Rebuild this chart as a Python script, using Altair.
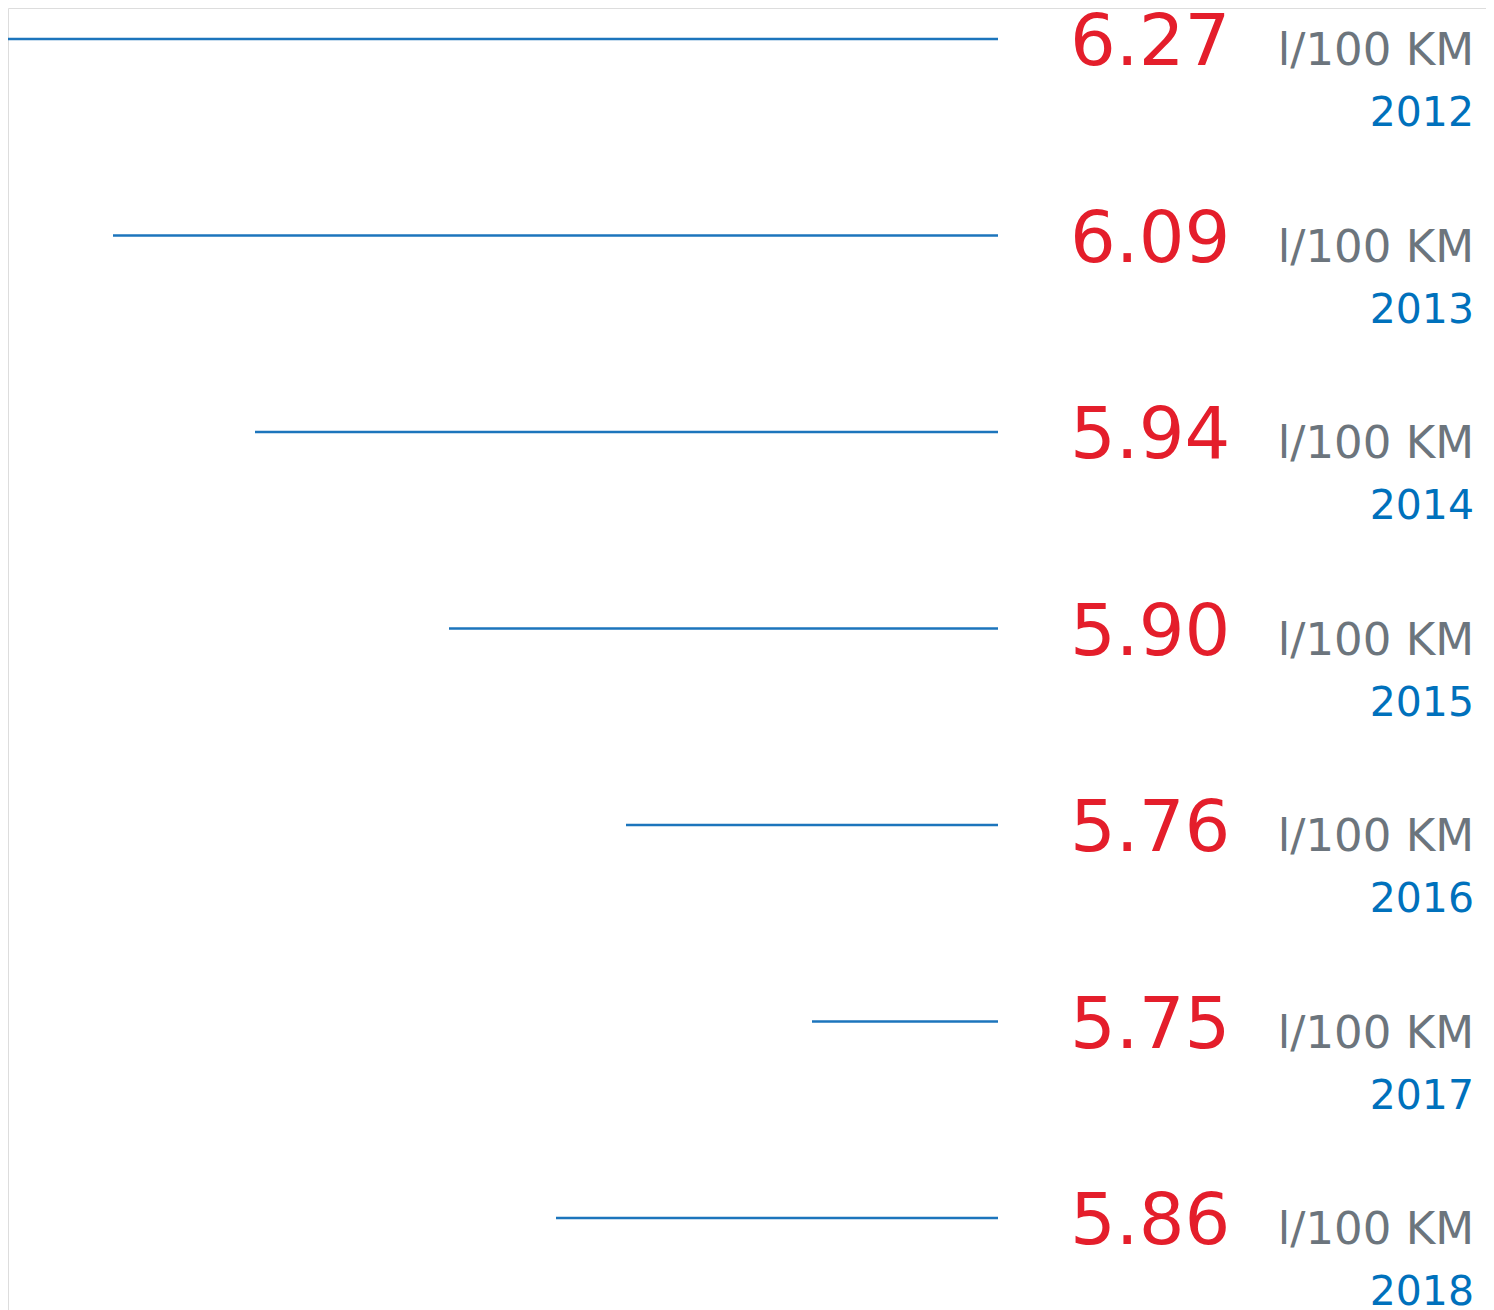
import altair as alt
import pandas as pd

years = [2012, 2013, 2014, 2015, 2016, 2017, 2018]
values = ["6.27", "6.09", "5.94", "5.90", "5.76", "5.75", "5.86"]
line_length = [998, 885, 743, 549, 372, 186, 442]
unit = "l/100 KM"

df = pd.DataFrame({
    "year": years,
    "value": values,
    "length": line_length,
    "unit": [unit] * len(years),
})

FONT = "DejaVu Sans"
LINE_END = 998
H = 1330
TOP = 31
STEP = 196.5

y_scale = alt.Scale(domain=[2012 - TOP / STEP, 2012 + (H - TOP) / STEP],
                    reverse=True, nice=False, zero=False)
y_enc = alt.Y("year:Q", scale=y_scale, axis=None)
x_scale = alt.Scale(domain=[8, 1486], nice=False, zero=False)

base = alt.Chart(df).transform_calculate(
    start=f"{LINE_END} - datum.length", end=f"{LINE_END}"
)

rules = base.mark_rule(color="#1C75BC", strokeWidth=2.5).encode(
    x=alt.X("start:Q", scale=x_scale, axis=None),
    x2="end:Q",
    y=y_enc,
)

value_text = base.mark_text(
    font=FONT, fontSize=72, color="#E41E2B", align="left", baseline="alphabetic", dy=26
).encode(x=alt.value(1062), y=y_enc, text="value:N")

unit_text = base.mark_text(
    font=FONT, fontSize=45, color="#6C757D", align="right", baseline="alphabetic", dy=26
).encode(x=alt.value(1466), y=y_enc, text="unit:N")

year_text = base.mark_text(
    font=FONT, fontSize=41, color="#0071BC", align="right", baseline="alphabetic", dy=87
).encode(x=alt.value(1466), y=y_enc, text="year:N")

chart = alt.layer(rules, value_text, unit_text, year_text).properties(
    width=1478, height=H, autosize="none", padding=0
).configure_view(strokeWidth=0).configure(background="white")

chart.save("out.html", embed_options={"renderer": "svg", "actions": False})
